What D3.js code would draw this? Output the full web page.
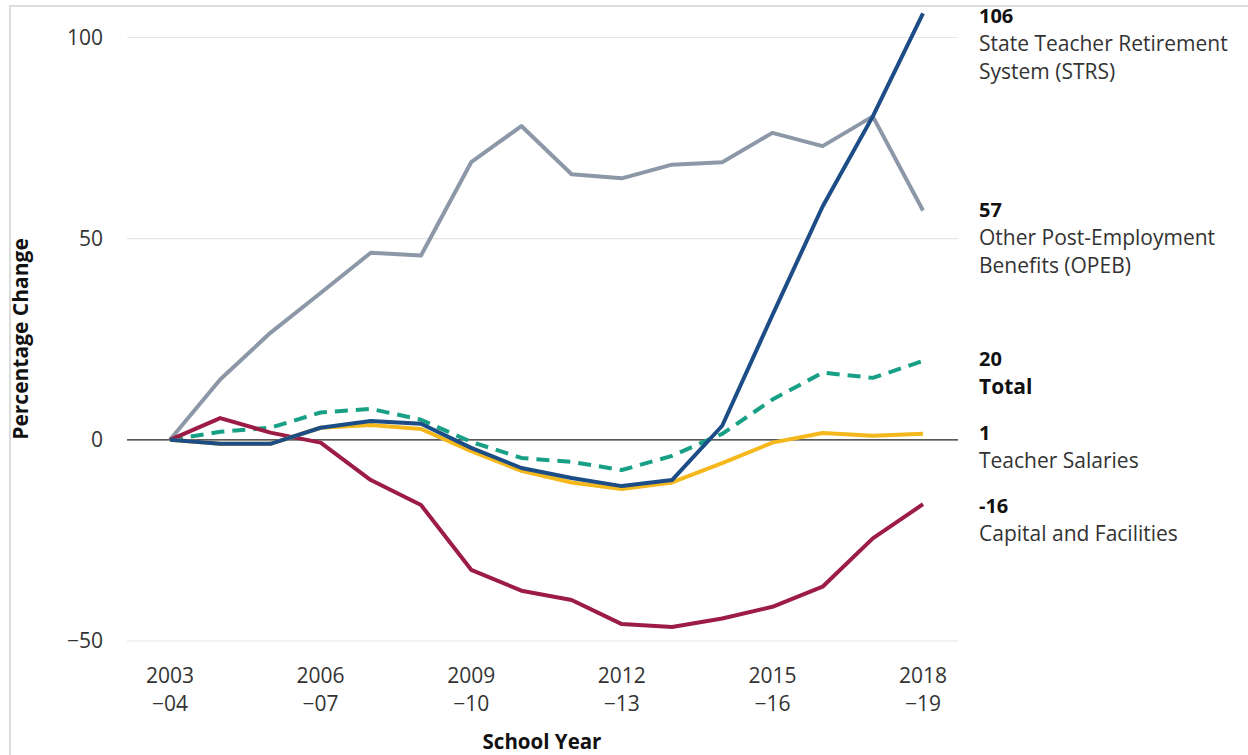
<!DOCTYPE html>
<html>
<head>
<meta charset="utf-8">
<script src="https://cdn.jsdelivr.net/npm/d3@7"></script>
<style>
  body { margin: 0; background: #fff; }
  text { font-family: "Open Sans", Lato, sans-serif; fill: #333; }
</style>
</head>
<body>
<svg id="chart"></svg>
<script>
// school years (start year of each school year)
const years = d3.range(2003, 2019);

// percentage change since 2003-04
const strs     = [0, -1, -1, 3, 4.7, 4, -2, -7, -9.5, -11.5, -10, 3.5, 31, 58, 80.4, 106];
const opeb     = [0, 15, 26.6, 36.5, 46.5, 45.8, 69, 78, 66, 65, 68.4, 69, 76.3, 73, 80.4, 57];
const total    = [0, 2, 3, 6.8, 7.7, 5, -0.5, -4.5, -5.5, -7.5, -4, 1.5, 10, 16.7, 15.4, 19.6];
const salaries = [0, -1, -1, 3, 3.7, 2.7, -2.8, -7.7, -10.6, -12.2, -10.6, -5.8, -0.7, 1.7, 1, 1.5];
const capital  = [0, 5.4, 1.8, -0.7, -10, -16.2, -32.3, -37.5, -39.8, -45.8, -46.5, -44.4, -41.5, -36.5, -24.5, -16];

const yTicks = [-50, 0, 50, 100];
const xTickYears = [2003, 2006, 2009, 2012, 2015, 2018];
const xTickLabels = [["2003", "\u221204"], ["2006", "\u221207"], ["2009", "\u221210"],
  ["2012", "\u221213"], ["2015", "\u221216"], ["2018", "\u221219"]];

// end-of-line annotations: value line + name lines
const endLabels = [
  { value: "106", name: ["State Teacher Retirement", "System (STRS)"], y: 16, boldName: false },
  { value: "57", name: ["Other Post-Employment", "Benefits (OPEB)"], y: 210, boldName: false },
  { value: "20", name: ["Total"], y: 359, boldName: true },
  { value: "1", name: ["Teacher Salaries"], y: 433, boldName: false },
  { value: "-16", name: ["Capital and Facilities"], y: 506, boldName: false }
];

const width = 1248, height = 755;
const svg = d3.select("#chart").attr("width", width).attr("height", height);

// light frame around the figure
svg.append("rect")
  .attr("x", 10).attr("y", 6)
  .attr("width", width + 20).attr("height", height + 20)
  .attr("fill", "none").attr("stroke", "#dcdcdc").attr("stroke-width", 2);

const x = d3.scaleLinear().domain([2003, 2018]).range([170, 923]);
const y = d3.scaleLinear().domain([-50, 100]).range([641, 37.5]);

// gridlines
svg.append("g")
  .selectAll("line")
  .data(yTicks)
  .join("line")
  .attr("x1", 127).attr("x2", 958)
  .attr("y1", d => y(d)).attr("y2", d => y(d))
  .attr("stroke", d => d === 0 ? "#222" : "#e6e6e6")
  .attr("stroke-width", 1.2);

// y tick labels
svg.append("g")
  .selectAll("text")
  .data(yTicks)
  .join("text")
  .attr("x", 103)
  .attr("y", d => y(d))
  .attr("dy", "0.35em")
  .attr("text-anchor", "end")
  .style("font-size", "21px")
  .text(d => d < 0 ? "\u2212" + Math.abs(d) : d);

// x tick labels (two lines)
const xt = svg.append("g")
  .selectAll("text")
  .data(xTickYears)
  .join("text")
  .attr("text-anchor", "middle")
  .style("font-size", "21px");
xt.append("tspan")
  .attr("x", d => x(d)).attr("y", 683)
  .text((d, i) => xTickLabels[i][0]);
xt.append("tspan")
  .attr("x", d => x(d)).attr("y", 711)
  .text((d, i) => xTickLabels[i][1]);

// axis titles
svg.append("text")
  .attr("transform", "translate(28,339) rotate(-90)")
  .attr("text-anchor", "middle")
  .style("font-size", "21px")
  .style("font-weight", "bold")
  .style("fill", "#111")
  .text("Percentage Change");
svg.append("text")
  .attr("x", 542).attr("y", 749)
  .attr("text-anchor", "middle")
  .style("font-size", "20.5px")
  .style("font-weight", "bold")
  .style("fill", "#111")
  .text("School Year");

// series lines
const series = [
  { name: "OPEB", values: opeb, color: "#8c98a8", dash: null },
  { name: "Total", values: total, color: "#17a085", dash: "13,8" },
  { name: "Capital", values: capital, color: "#9c1c45", dash: null },
  { name: "Salaries", values: salaries, color: "#f5b81c", dash: null },
  { name: "STRS", values: strs, color: "#1c4d86", dash: null }
];

const line = d3.line()
  .x((d, i) => x(years[i]))
  .y(d => y(d));

svg.append("g")
  .selectAll("path")
  .data(series)
  .join("path")
  .attr("fill", "none")
  .attr("stroke", d => d.color)
  .attr("stroke-width", 4)
  .attr("stroke-linejoin", "round")
  .attr("stroke-dasharray", d => d.dash)
  .attr("d", d => line(d.values));

// end labels
const lab = svg.append("g")
  .selectAll("g")
  .data(endLabels)
  .join("g");
lab.append("text")
  .attr("x", 979).attr("y", d => d.y)
  .attr("dy", "0.35em")
  .style("font-size", "20px")
  .style("font-weight", "bold")
  .style("fill", "#111")
  .text(d => d.value);
lab.each(function (d) {
  d3.select(this).selectAll("text.name")
    .data(d.name)
    .join("text")
    .attr("class", "name")
    .attr("x", 979)
    .attr("y", (n, i) => d.y + 28 + i * 27.5)
    .attr("dy", "0.35em")
    .style("font-size", "21px")
    .style("font-weight", d.boldName ? "bold" : "normal")
    .style("fill", d.boldName ? "#111" : "#333")
    .text(n => n);
});
</script>
</body>
</html>
